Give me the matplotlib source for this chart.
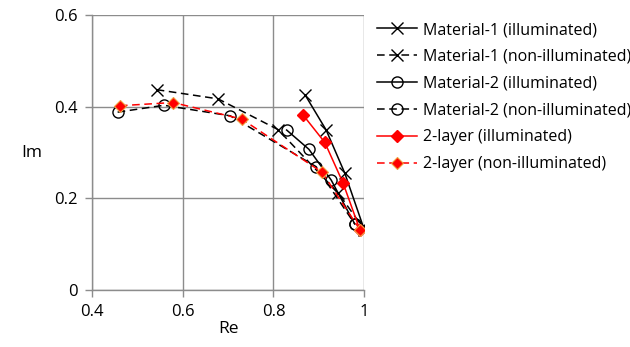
import matplotlib
matplotlib.use("Agg")
import matplotlib.pyplot as plt

# Data
m1_ill_re = [0.870, 0.916, 0.957, 0.997]
m1_ill_im = [0.425, 0.349, 0.255, 0.140]
m1_non_re = [0.543, 0.678, 0.810, 0.943, 1.000]
m1_non_im = [0.437, 0.417, 0.350, 0.211, 0.132]

m2_ill_re = [0.829, 0.878, 0.927, 0.979]
m2_ill_im = [0.349, 0.307, 0.240, 0.144]
m2_non_re = [0.457, 0.559, 0.705, 0.894, 0.979]
m2_non_im = [0.388, 0.403, 0.380, 0.269, 0.144]

l2_ill_re = [0.865, 0.913, 0.953, 0.990]
l2_ill_im = [0.382, 0.322, 0.234, 0.132]
l2_non_re = [0.462, 0.579, 0.730, 0.907, 0.990]
l2_non_im = [0.402, 0.409, 0.373, 0.257, 0.132]

plt.rcParams.update({
    "font.family": ["Open Sans", "DejaVu Sans"],
    "font.size": 11,
})

fig = plt.figure(figsize=(6.3, 3.47), dpi=100)
ax = fig.add_axes([0.1456, 0.164, 0.4327, 0.793])

dash = (0, (5, 3))
ax.plot(m1_ill_re, m1_ill_im, color="black", lw=1.1, marker="x", ms=8, mew=1.0,
        label="Material-1 (illuminated)")
ax.plot(m1_non_re, m1_non_im, color="black", lw=1.1, ls=dash, marker="x", ms=8, mew=1.0,
        label="Material-1 (non-illuminated)")
ax.plot(m2_ill_re, m2_ill_im, color="black", lw=1.1, marker="o", ms=8, mfc="none", mew=1.0,
        label="Material-2 (illuminated)")
ax.plot(m2_non_re, m2_non_im, color="black", lw=1.1, ls=dash, marker="o", ms=8, mfc="none", mew=1.0,
        label="Material-2 (non-illuminated)")
ax.plot(l2_ill_re, l2_ill_im, color="red", lw=1.1, marker="D", ms=6, mfc="red", mec="red",
        label="2-layer (illuminated)")
ax.plot(l2_non_re, l2_non_im, color="red", lw=1.1, ls=dash, marker="D", ms=6, mfc="red",
        mec="#F0A040", mew=0.8, label="2-layer (non-illuminated)")

ax.set_xlim(0.4, 1.0)
ax.set_ylim(0, 0.6)
ax.set_xticks([0.4, 0.6, 0.8, 1.0])
ax.set_xticklabels(["0.4", "0.6", "0.8", "1"])
ax.set_yticks([0, 0.2, 0.4, 0.6])
ax.set_yticklabels(["0", "0.2", "0.4", "0.6"])
ax.grid(True, color="#8c8c8c", lw=1.0)
ax.set_axisbelow(True)
for s in ["top", "right"]:
    ax.spines[s].set_visible(False)
for s in ["left", "bottom"]:
    ax.spines[s].set_color("#8c8c8c")
    ax.spines[s].set_linewidth(1.0)
ax.tick_params(color="#8c8c8c", length=5, width=1.0, labelsize=12, pad=5)

ax.set_xlabel("Re", fontsize=12.5, labelpad=1)
ax.set_ylabel("Im", fontsize=12.5, rotation=0, labelpad=16, va="center")

fig.legend(loc="upper left", bbox_to_anchor=(0.589, 0.955), frameon=False,
           fontsize=11.5, handlelength=2.5, handletextpad=0.35, labelspacing=0.68,
           borderaxespad=0)

fig.savefig("out.png", dpi=100)
